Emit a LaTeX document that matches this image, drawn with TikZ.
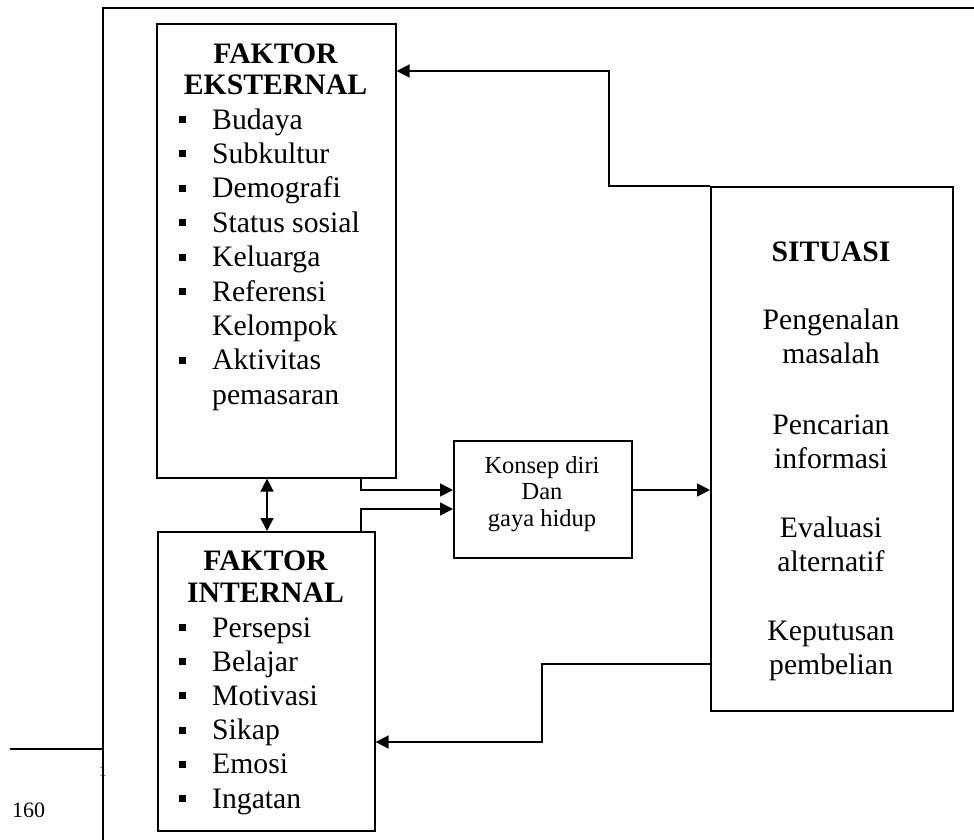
\documentclass[tikz,border=0pt]{standalone}
\usepackage{fontspec}
\setmainfont{Liberation Serif}
\usetikzlibrary{arrows.meta}
\newcommand{\txtbody}{\fontsize{29.7}{34.4}\selectfont}
\newcommand{\txthead}{\bfseries\fontsize{29.7}{31.5}\selectfont}
\newcommand{\txtsmall}{\fontsize{24.5}{27}\selectfont}
\begin{document}
\begin{tikzpicture}[x=1pt,y=-1pt,
  box/.style={draw, line width=1.6pt, anchor=north west, inner sep=0pt},
  conn/.style={line width=1.6pt, -{Triangle[length=13pt,width=13pt]}},
  dbl/.style={line width=1.6pt, {Triangle[length=13pt,width=13pt]}-{Triangle[length=13pt,width=13pt]}},
  head/.style={anchor=base, inner sep=0pt, font=\txthead},
  line/.style={anchor=base, inner sep=0pt, font=\txtbody},
  item/.style={anchor=base west, inner sep=0pt, font=\txtbody},
  bul/.style={fill, draw=none, minimum size=7pt, inner sep=0pt}]
\useasboundingbox (0,0) rectangle (974,839);
\fill[white] (0,0) rectangle (974,839);

% boxes
\node[box, minimum width=239pt, minimum height=454pt] (ext) at (156,23) {};
\node[box, minimum width=217pt, minimum height=299pt] (int) at (157,531) {};
\node[box, minimum width=178pt, minimum height=117pt] (konsep) at (453,440) {};
\node[box, minimum width=242pt, minimum height=524pt] (sit) at (710,186) {};

% external factors
\node[head] (eh1) at (275.5,63) {FAKTOR};
\node[head] (eh2) at (275.5,94) {EKSTERNAL};
\foreach \t/\y [count=\i] in {Budaya/129, Subkultur/163.4, Demografi/197.8,
    Status sosial/232.2, Keluarga/266.6, Referensi/301, Aktivitas/369.8} {
  \node[item] (ei\i) at (212,\y) {\t};
  \node[bul] (eb\i) at (182.5,\y-9.5) {};
}
\node[item] (ei8) at (212,335.4) {Kelompok};
\node[item] (ei9) at (212,404.2) {pemasaran};

% internal factors
\node[head] (ih1) at (265.5,570) {FAKTOR};
\node[head] (ih2) at (265.5,602) {INTERNAL};
\foreach \t/\y [count=\i] in {Persepsi/637, Belajar/671.2, Motivasi/705.4,
    Sikap/739.6, Emosi/773.8, Ingatan/808} {
  \node[item] (ii\i) at (212,\y) {\t};
  \node[bul] (ib\i) at (182.5,\y-9.5) {};
}

% self concept
\node[anchor=base, inner sep=0pt, font=\txtsmall] (k1) at (542,473) {Konsep diri};
\node[anchor=base, inner sep=0pt, font=\txtsmall] (k2) at (542,499.5) {Dan};
\node[anchor=base, inner sep=0pt, font=\txtsmall] (k3) at (542,526) {gaya hidup};

% situation
\node[head] (sh) at (831,261) {SITUASI};
\foreach \t/\y [count=\i] in {Pengenalan/329, masalah/363, Pencarian/434, informasi/468,
    Evaluasi/537, alternatif/571, Keputusan/640, pembelian/674} {
  \node[line] (s\i) at (831,\y) {\t};
}

% connectors
\coordinate (c1) at (361,490);
\coordinate (c2) at (361,509);
\coordinate (c3) at (609,71);
\coordinate (c4) at (542,664);
\coordinate (c5) at (542,742);
\coordinate (c6) at (267,500);
\draw[conn] (ext.south -| c1) |- (konsep.west |- c1);
\draw[conn] (int.north -| c2) |- (konsep.west |- c2);
\draw[conn] (konsep.east |- c1) -- (sit.west |- c1);
\draw[conn] (sit.north west) -| (c3) -- (ext.east |- c3);
\draw[conn] (sit.west |- c4) -- (c4) -- (c5) -- (int.east |- c5);
\draw[dbl] (ext.south -| c6) -- (int.north -| c6);

% page furniture
\node[anchor=base west, inner sep=0pt, font=\fontsize{15}{15}\selectfont] (fn) at (99,776) {1};
\node[anchor=base west, inner sep=0pt, font=\fontsize{22}{22}\selectfont] (pg) at (12,817) {160};
\draw[line width=1.3pt] (10,749) -- (103,749);
\draw[line width=1.6pt] (103,850) -- (103,8) -- (985,8);
\end{tikzpicture}
\end{document}
